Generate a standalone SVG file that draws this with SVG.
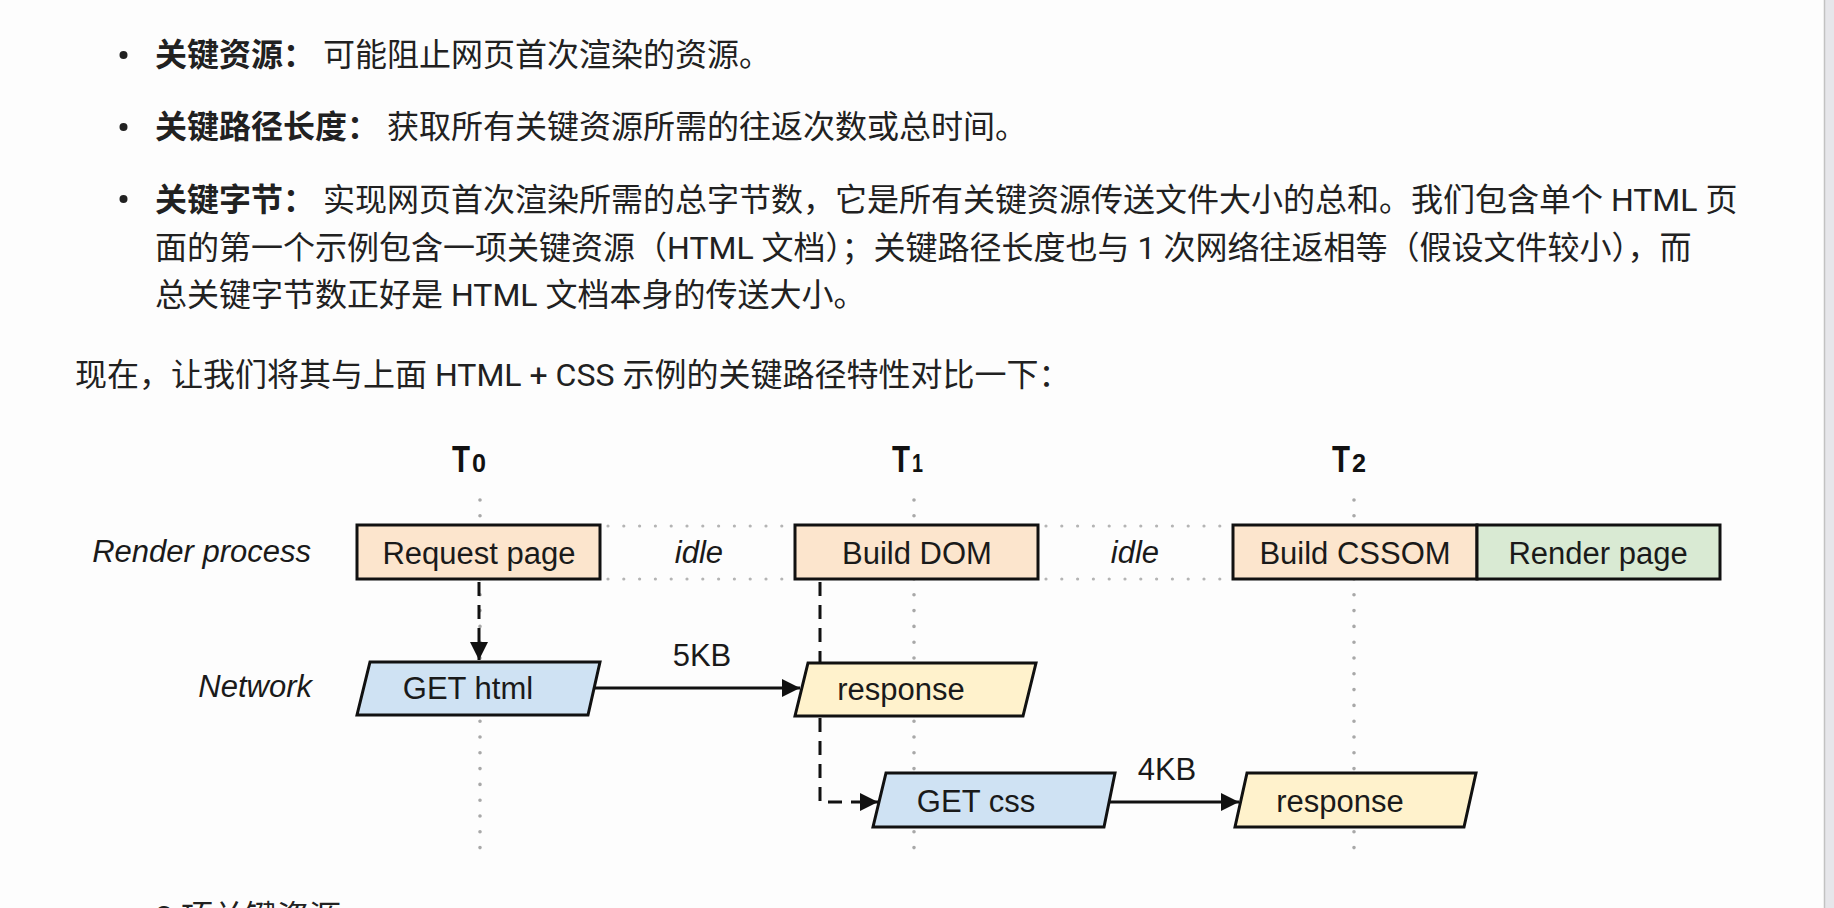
<svg xmlns="http://www.w3.org/2000/svg" width="1834" height="908" viewBox="0 0 1834 908">
<style>
.body{font-family:Roboto,"Noto Sans CJK SC",sans-serif;font-size:32px;fill:#212121}
.b{font-weight:bold}
.lbl{font-family:"Liberation Sans",Arial,sans-serif;font-size:31px;fill:#1a1a1a;text-anchor:middle}
.it{font-style:italic;text-anchor:end}
.tt{font-family:"Liberation Sans",Arial,sans-serif;font-weight:bold;fill:#111}
.box{stroke:#111;stroke-width:3}
.peach{fill:#fce5cd}
.green{fill:#d9ead3}
.blue{fill:#cfe2f3}
.yellow{fill:#fff2cc}
.dots{stroke:#a8a8a8;stroke-width:3.6;stroke-linecap:round;stroke-dasharray:0 15.8;fill:none}
.hdots{stroke:#b4b4b4;stroke-width:3.2;stroke-linecap:round;stroke-dasharray:0 15.8;fill:none}
.dash{stroke:#111;stroke-width:3;stroke-dasharray:14 9;fill:none}
.solid{stroke:#111;stroke-width:3;fill:none}
</style>
<defs>
<marker id="ah" viewBox="0 0 10 10" refX="10" refY="5" markerWidth="7" markerHeight="6" markerUnits="strokeWidth" orient="auto">
<path d="M0,0 L10,5 L0,10 z" fill="#111"/>
</marker>
</defs>
<rect width="1834" height="908" fill="#fdfdfd"/>
<rect x="1824" y="0" width="10" height="908" fill="#e6e6ea"/>
<line x1="1824.5" y1="0" x2="1824.5" y2="908" stroke="#c2c2c2" stroke-width="1.5"/>

<g id="text">
<circle cx="123.5" cy="55" r="4" fill="#212121"/>
<text class="body" x="155" y="66"><tspan class="b">关键资源：</tspan> 可能阻止网页首次渲染的资源。</text>
<circle cx="123.5" cy="127" r="4" fill="#212121"/>
<text class="body" x="155" y="138"><tspan class="b">关键路径长度：</tspan> 获取所有关键资源所需的往返次数或总时间。</text>
<circle cx="123.5" cy="199" r="4" fill="#212121"/>
<text class="body" x="155" y="211"><tspan class="b">关键字节：</tspan> 实现网页首次渲染所需的总字节数，它是所有关键资源传送文件大小的总和。我们包含单个 HTML 页</text>
<text class="body" x="155" y="259">面的第一个示例包含一项关键资源（HTML 文档）；关键路径长度也与 1 次网络往返相等（假设文件较小），而</text>
<text class="body" x="155" y="306">总关键字节数正好是 HTML 文档本身的传送大小。</text>
<text class="body" x="75" y="386">现在，让我们将其与上面 HTML + CSS 示例的关键路径特性对比一下：</text>
<text class="body" x="155" y="928">2 项关键资源</text>
</g>

<g id="timelines">
<line class="dots" x1="480" y1="500" x2="480" y2="848"/>
<line class="dots" x1="914" y1="500" x2="914" y2="848"/>
<line class="dots" x1="1354" y1="500" x2="1354" y2="848"/>
<line class="hdots" x1="608" y1="526" x2="795" y2="526"/>
<line class="hdots" x1="608" y1="579" x2="795" y2="579"/>
<line class="hdots" x1="1046" y1="526" x2="1233" y2="526"/>
<line class="hdots" x1="1046" y1="579" x2="1233" y2="579"/>
</g>

<g id="time-labels">
<text class="tt" x="452" y="472" font-size="36" textLength="18" lengthAdjust="spacingAndGlyphs">T</text>
<text class="tt" x="472" y="472" font-size="26" textLength="14" lengthAdjust="spacingAndGlyphs">0</text>
<text class="tt" x="892" y="472" font-size="36" textLength="18" lengthAdjust="spacingAndGlyphs">T</text>
<text class="tt" x="912" y="472" font-size="26" textLength="11" lengthAdjust="spacingAndGlyphs">1</text>
<text class="tt" x="1332" y="472" font-size="36" textLength="18" lengthAdjust="spacingAndGlyphs">T</text>
<text class="tt" x="1352" y="472" font-size="26" textLength="14" lengthAdjust="spacingAndGlyphs">2</text>
</g>

<g id="row-labels">
<text class="lbl it" x="311" y="562">Render process</text>
<text class="lbl it" x="312" y="697">Network</text>
<text class="lbl it" x="699" y="563" style="text-anchor:middle">idle</text>
<text class="lbl it" x="1135" y="563" style="text-anchor:middle">idle</text>
</g>

<g id="connectors">
<line class="dash" x1="479" y1="582" x2="479" y2="660" marker-end="url(#ah)"/>
<line class="solid" x1="594" y1="688" x2="800" y2="688" marker-end="url(#ah)"/>
<line class="dash" x1="820" y1="582" x2="820" y2="662"/>
<polyline class="dash" points="820,718 820,802 878,802" marker-end="url(#ah)"/>
<line class="solid" x1="1109" y1="802" x2="1239" y2="802" marker-end="url(#ah)"/>
<text class="lbl" x="702" y="666">5KB</text>
<text class="lbl" x="1167" y="780">4KB</text>
</g>

<g id="request-page">
<rect class="box peach" x="357" y="525" width="243" height="54"/>
<text class="lbl" x="479" y="564">Request page</text>
</g>
<g id="build-dom">
<rect class="box peach" x="795" y="525" width="243" height="54"/>
<text class="lbl" x="917" y="564">Build DOM</text>
</g>
<g id="build-cssom">
<rect class="box peach" x="1233" y="525" width="244" height="54"/>
<text class="lbl" x="1355" y="564">Build CSSOM</text>
</g>
<g id="render-page">
<rect class="box green" x="1477" y="525" width="243" height="54"/>
<text class="lbl" x="1598" y="564">Render page</text>
</g>
<g id="get-html">
<polygon class="box blue" points="370,662 600,662 588,715 357,715"/>
<text class="lbl" x="468" y="699">GET html</text>
</g>
<g id="response-html">
<polygon class="box yellow" points="808,663 1036,663 1023,716 795,716"/>
<text class="lbl" x="901" y="700">response</text>
</g>
<g id="get-css">
<polygon class="box blue" points="886,773 1115,773 1104,827 873,827"/>
<text class="lbl" x="976" y="812">GET css</text>
</g>
<g id="response-css">
<polygon class="box yellow" points="1247,773 1476,773 1464,827 1235,827"/>
<text class="lbl" x="1340" y="812">response</text>
</g>
</svg>
